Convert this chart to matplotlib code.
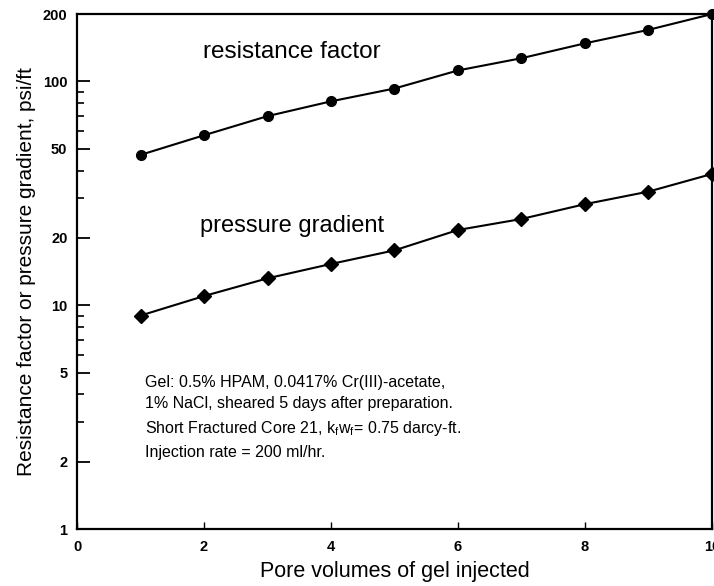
import matplotlib
matplotlib.use("Agg")
import matplotlib.pyplot as plt
from matplotlib.ticker import FixedLocator, NullFormatter

plt.rcParams['font.family'] = ['Liberation Sans', 'DejaVu Sans']
plt.rcParams['mathtext.fontset'] = 'custom'
plt.rcParams['mathtext.rm'] = 'Liberation Sans'
plt.rcParams['mathtext.it'] = 'Liberation Sans'

pore_volumes = [1, 2, 3, 4, 5, 6, 7, 8, 9, 10]
resistance_factor = [47, 57.5, 70, 81.5, 93, 112, 127, 148, 170, 200]
pressure_gradient = [9.0, 11.0, 13.2, 15.3, 17.6, 21.7, 24.3, 28.3, 32.2, 38.6]

y_major = [1, 2, 5, 10, 20, 50, 100, 200]
y_major_labels = ['1', '2', '5', '10', '20', '50', '100', '200']
y_minor = [3, 4, 6, 7, 8, 9, 30, 40, 60, 70, 80, 90]
x_ticks = [0, 2, 4, 6, 8, 10]
x_tick_labels = ['0', '2', '4', '6', '8', '10']

fig = plt.figure(figsize=(7.14, 5.86), dpi=100)
ax = fig.add_axes([0.108, 0.097, 0.889, 0.879])

ax.plot(pore_volumes, resistance_factor, color='black', lw=1.5,
        marker='o', markersize=7, clip_on=False, zorder=3)
ax.plot(pore_volumes, pressure_gradient, color='black', lw=1.5,
        marker='D', markersize=7.5, clip_on=False, zorder=3)

ax.set_yscale('log')
ax.set_ylim(1, 200)
ax.set_xlim(0, 10)

ax.yaxis.set_major_locator(FixedLocator(y_major))
ax.set_yticklabels(y_major_labels)
ax.yaxis.set_minor_locator(FixedLocator(y_minor))
ax.yaxis.set_minor_formatter(NullFormatter())
ax.set_xticks(x_ticks)
ax.set_xticklabels(x_tick_labels)

ax.tick_params(axis='y', which='major', direction='in', length=9, width=1.3,
               labelsize=10.5, pad=7)
ax.tick_params(axis='y', which='minor', direction='in', length=5, width=1.2)
ax.tick_params(axis='x', which='major', direction='in', length=5, width=1.0,
               labelsize=10.5, pad=8)
for lab in ax.get_xticklabels() + ax.get_yticklabels():
    lab.set_fontweight('bold')

for side in ['left', 'bottom', 'right', 'top']:
    ax.spines[side].set_linewidth(1.6)

ax.set_xlabel('Pore volumes of gel injected', fontsize=15.5, labelpad=5)
ax.set_ylabel('Resistance factor or pressure gradient, psi/ft', fontsize=15,
              labelpad=5)

ax.text(1.98, 135, 'resistance factor', fontsize=17.5, va='center', ha='left')
ax.text(1.93, 22.6, 'pressure gradient', fontsize=17, va='center', ha='left')

notes = ('Gel: 0.5% HPAM, 0.0417% Cr(III)-acetate,\n'
         '1% NaCl, sheared 5 days after preparation.\n'
         'Short Fractured Core 21, k$_\\mathrm{f}$w$_\\mathrm{f}$= 0.75 darcy-ft.\n'
         'Injection rate = 200 ml/hr.')
ax.text(1.07, 4.9, notes, fontsize=11.5, va='top', ha='left', linespacing=1.55)

fig.savefig('out.png', dpi=100)
